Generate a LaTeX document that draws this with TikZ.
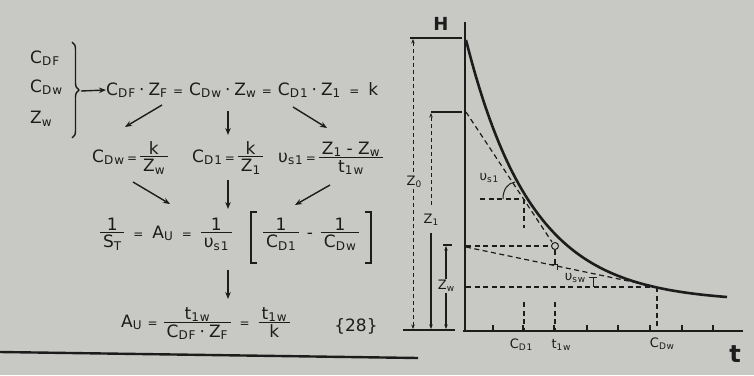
\documentclass[tikz,border=0pt]{standalone}
\usepackage{fontspec}
\setmainfont{DejaVu Sans}
\usetikzlibrary{arrows.meta,decorations.pathreplacing}
\definecolor{paper}{RGB}{200,200,197}
\definecolor{ink}{RGB}{28,28,28}
\newcommand\sbx[1]{\raisebox{-2.5pt}{\fontsize{12}{12}\selectfont\addfontfeature{LetterSpace=8}#1}}
\newcommand\gsb[1]{\raisebox{-2pt}{\fontsize{9}{9}\selectfont\addfontfeature{LetterSpace=8}#1}}
\newcommand\EQn{\kern3pt{\fontsize{12}{12}\selectfont=}\kern3pt}
\newcommand\EQ{\kern6pt{\fontsize{12}{12}\selectfont=}\kern6pt}
\newcommand\EQw{\kern9pt{\fontsize{12}{12}\selectfont=}\kern9pt}
\newcommand\MD{\kern4pt·\kern4pt}
\def\nst{\vrule height13pt depth1.5pt width0pt}
\def\dst{\vrule height14.5pt depth2pt width0pt}
\newcommand\fr[2]{$\vcenter{\offinterlineskip\halign{\hfil\kern3pt##\kern3pt\hfil\cr\nst#1\cr\noalign{\hrule height1.3pt}\dst#2\cr}}$}
\begin{document}
\begin{tikzpicture}[x=1pt,y=-1pt,
  txt/.style={font=\fontsize{17}{20}\selectfont, inner sep=0pt, text=ink},
  glab/.style={font=\fontsize{13}{15}\selectfont, inner sep=0pt, text=ink},
  arr/.style={draw=ink, line width=1.4pt, -{Stealth[length=7pt,width=5.5pt]}},
  axisline/.style={draw=ink, line width=2pt},
  curveline/.style={draw=ink, line width=2.6pt},
  dsh/.style={draw=ink, line width=1.2pt, dash pattern=on 5pt off 3.5pt},
  dimdash/.style={draw=ink, line width=0.9pt, dash pattern=on 4pt off 3pt},
  dimsolid/.style={draw=ink, line width=1.1pt},
  tipu/.style={-{Stealth[length=4.5pt,width=3.5pt]}},
]
\useasboundingbox (0,0) rectangle (754,375);
\fill[paper] (0,0) rectangle (754,375);

% ---------- left: formulas ----------
\node[txt, anchor=west] (cdf) at (30,58) {C\sbx{DF}};
\node[txt, anchor=west] (cdw) at (30,87) {C\sbx{Dw}};
\node[txt, anchor=west] (zwl) at (30,119) {Z\sbx{w}};
\draw[ink, line width=1.4pt, decorate, decoration={brace, amplitude=7pt}] (72,42) -- (72,138);
\coordinate (bt) at (81,91);

\node[txt, anchor=west] (eq1) at (106,90) {C\sbx{DF}\MD Z\sbx{F}\EQ C\sbx{Dw}\MD Z\sbx{w}\EQ C\sbx{D1}\MD Z\sbx{1}\EQw k};
\draw[arr] (bt) -- (eq1.west);

\node[txt, anchor=west] (n21) at (92,158) {C\sbx{Dw}\EQn\fr{k}{Z\sbx{w}}};
\node[txt, anchor=west] (n22) at (192,158) {C\sbx{D1}\EQn\fr{k}{Z\sbx{1}}};
\node[txt, anchor=west] (n23) at (278,158) {υ\sbx{s1}\EQn\fr{Z\sbx{1} - Z\sbx{w}}{t\sbx{1w}}};

\coordinate (a1s) at (162,105); \coordinate (a1e) at (125,127);
\coordinate (a2s) at (228,111); \coordinate (a2e) at (228,135);
\coordinate (a3s) at (293,107); \coordinate (a3e) at (327,128);
\draw[arr] (a1s) -- (a1e);
\draw[arr] (a2s) -- (a2e);
\draw[arr] (a3s) -- (a3e);

\node[txt, anchor=west] (r3a) at (100,234) {\fr{1}{S\sbx{T}}\EQw A\sbx{U}\EQw\fr{1}{υ\sbx{s1}}};
\node[txt] (r3b) at (311,234) {\fr{1}{C\sbx{D1}}\kern8pt-\kern8pt\fr{1}{C\sbx{Dw}}};
\draw[ink, line width=1.8pt] (257,212) -- (251,212) -- (251,263) -- (257,263);
\draw[ink, line width=1.8pt] (365,212) -- (371,212) -- (371,263) -- (365,263);

\coordinate (b1s) at (133,182); \coordinate (b1e) at (170,204);
\coordinate (b2s) at (228,180); \coordinate (b2e) at (228,209);
\coordinate (b3s) at (330,185); \coordinate (b3e) at (295,205);
\draw[arr] (b1s) -- (b1e);
\draw[arr] (b2s) -- (b2e);
\draw[arr] (b3s) -- (b3e);

\coordinate (c1s) at (228,270); \coordinate (c1e) at (228,299);
\draw[arr] (c1s) -- (c1e);

\node[txt, anchor=west] (r4) at (121,323) {A\sbx{U}\EQ\fr{t\sbx{1w}}{C\sbx{DF}\MD Z\sbx{F}}\EQw\fr{t\sbx{1w}}{k}};
\node[txt] (eqn) at (356,326) {\{28\}};

\draw[ink, line width=2.4pt] (0,352) -- (418,358);

% ---------- right: graph ----------
\draw[axisline] (465,22) -- (465,331);
\draw[axisline] (463,331) -- (743,331);
\draw[dimsolid, line width=1.6pt] (403,330) -- (455,330);
\foreach \x in {493,523,554,587,618,650,682,713} \draw[ink, line width=1.3pt] (\x,331) -- (\x,325);
\node[glab, font=\bfseries\fontsize{18}{20}\selectfont] (H) at (441,24) {H};
\node[glab, font=\bfseries\fontsize{24}{26}\selectfont] (tax) at (735,354) {t};

% Z0
\draw[dimsolid] (410,38) -- (462,38);
\draw[dimdash, {Stealth[length=4.5pt,width=3.5pt]}-{Stealth[length=4.5pt,width=3.5pt]}] (413,39) -- (413,329);
\node[glab, fill=paper, inner sep=1.5pt] (z0) at (414,182) {Z\gsb{0}};
% Z1
\draw[dimsolid] (431,112) -- (462,112);
\draw[dimdash, tipu] (431,205) -- (431,113);
\draw[dimsolid, tipu] (431,233) -- (431,329);
\node[glab] (z1) at (431,220) {Z\gsb{1}};
% Zw
\draw[dimsolid] (443,245) -- (452,245);
\draw[dimsolid, {Stealth[length=4.5pt,width=3.5pt]}-{Stealth[length=4.5pt,width=3.5pt]}] (446,246) -- (446,329);
\node[glab, fill=paper, inner sep=1.5pt] (zwg) at (446,286) {Z\gsb{w}};

% dashed construction
\draw[dsh] (466,112) -- (552,242);
\draw[dsh] (466,246) -- (551,246);
\draw[dsh] (466,247) -- (657,287);
\draw[dsh] (466,287) -- (657,287);
\draw[dsh] (657,287) -- (657,330);
\draw[dsh] (480,199) -- (524,199);
\draw[dsh] (524,199) -- (524,228);
\draw[dsh] (524,302) -- (524,330);
\draw[dsh] (555,250) -- (555,266);
\draw[dsh] (555,302) -- (555,330);
\draw[ink, line width=1pt] (551,264) -- (557,264) -- (557,270);
\draw[ink, line width=1pt] (589,277) -- (597,277);
\draw[ink, line width=1pt] (593,277) -- (593,287);
\draw[ink, line width=1pt] (555,246) circle (3.5);

% curve
\draw[curveline] plot[domain=466:727, samples=80] (\x, {302-262*exp(-(\x-466)/66)});

% angle arc
\draw[ink, line width=1pt] (503,199) .. controls (503,189) and (508,183) .. (515,182);
\node[glab] (vs1) at (489,178) {υ\gsb{s1}};
\node[glab] (vsw) at (575,278) {υ\gsb{sw}};

% axis labels
\node[glab] (lcd1) at (521,345) {C\gsb{D1}};
\node[glab] (lt1w) at (561,345) {t\gsb{1w}};
\node[glab] (lcdw) at (662,344) {C\gsb{Dw}};
\end{tikzpicture}
\end{document}
